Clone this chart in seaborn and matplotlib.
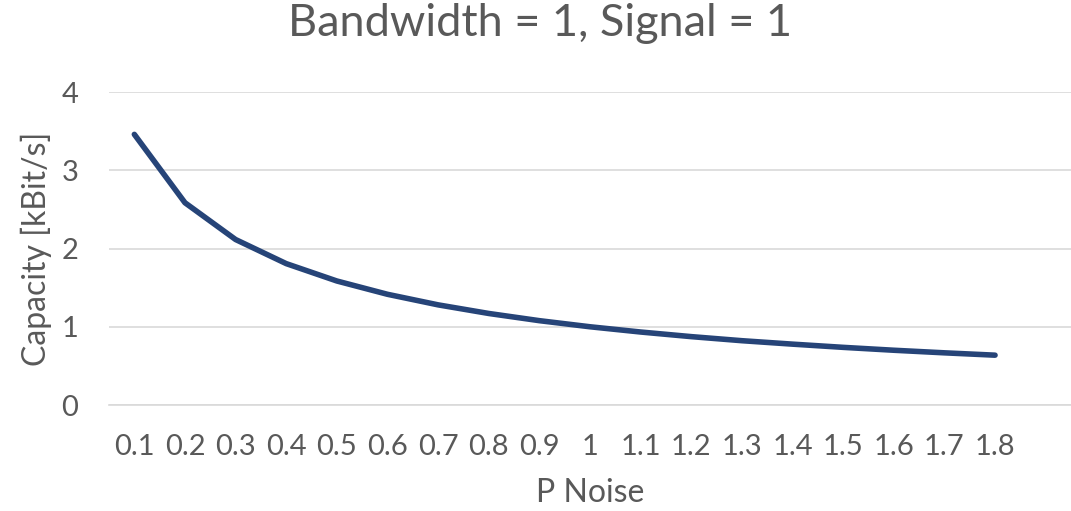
import matplotlib
matplotlib.use("Agg")
import matplotlib.pyplot as plt
import seaborn as sns
import pandas as pd

noise_labels = ["0.1", "0.2", "0.3", "0.4", "0.5", "0.6", "0.7", "0.8", "0.9", "1",
                "1.1", "1.2", "1.3", "1.4", "1.5", "1.6", "1.7", "1.8"]
capacity = [3.459, 2.585, 2.115, 1.807, 1.585, 1.415, 1.280, 1.170, 1.078, 1.000,
            0.933, 0.874, 0.822, 0.778, 0.737, 0.700, 0.667, 0.637]
y_ticks = [0, 1, 2, 3, 4]

sns.set_theme(style="white")
plt.rcParams['font.family'] = ['Lato', 'DejaVu Sans']

df = pd.DataFrame({"pos": list(range(len(noise_labels))), "cap": capacity})

fig = plt.figure(figsize=(10.71, 5.11), dpi=100)
ax = fig.add_axes([0.1018, 0.2074, 0.8982, 0.6125])

text_color = "#595959"
sns.lineplot(data=df, x="pos", y="cap", ax=ax, color="#264478", linewidth=4.0)
for ln in ax.lines:
    ln.set_solid_capstyle("round")
    ln.set_solid_joinstyle("round")

# category axis with one trailing empty slot, as in the reference
ax.set_xlim(-0.5, len(noise_labels) + 0.5)
ax.set_ylim(0, 4)
ax.set_yticks(y_ticks)
ax.set_yticklabels([str(v) for v in y_ticks], fontsize=21, color=text_color)
ax.set_xticks(list(range(len(noise_labels))))
ax.set_xticklabels(noise_labels, fontsize=21, color=text_color)
ax.tick_params(axis="both", length=0)
ax.tick_params(axis="x", pad=21)
ax.tick_params(axis="y", pad=22)
ax.yaxis.grid(True, color="#d9d9d9", linewidth=1.2)
ax.set_axisbelow(True)
for s in ["top", "right", "left"]:
    ax.spines[s].set_visible(False)
ax.spines["bottom"].set_color("#d9d9d9")
ax.spines["bottom"].set_linewidth(1.2)

ax.set_xlabel("P Noise", fontsize=23, color=text_color, labelpad=13)
ax.set_ylabel("Capacity [kBit/s]", fontsize=23, color=text_color, labelpad=7)
fig.suptitle("Bandwidth = 1, Signal = 1", fontsize=32.5, color=text_color,
             y=0.995, x=0.504, va="top")

fig.savefig("out.png", dpi=100)
